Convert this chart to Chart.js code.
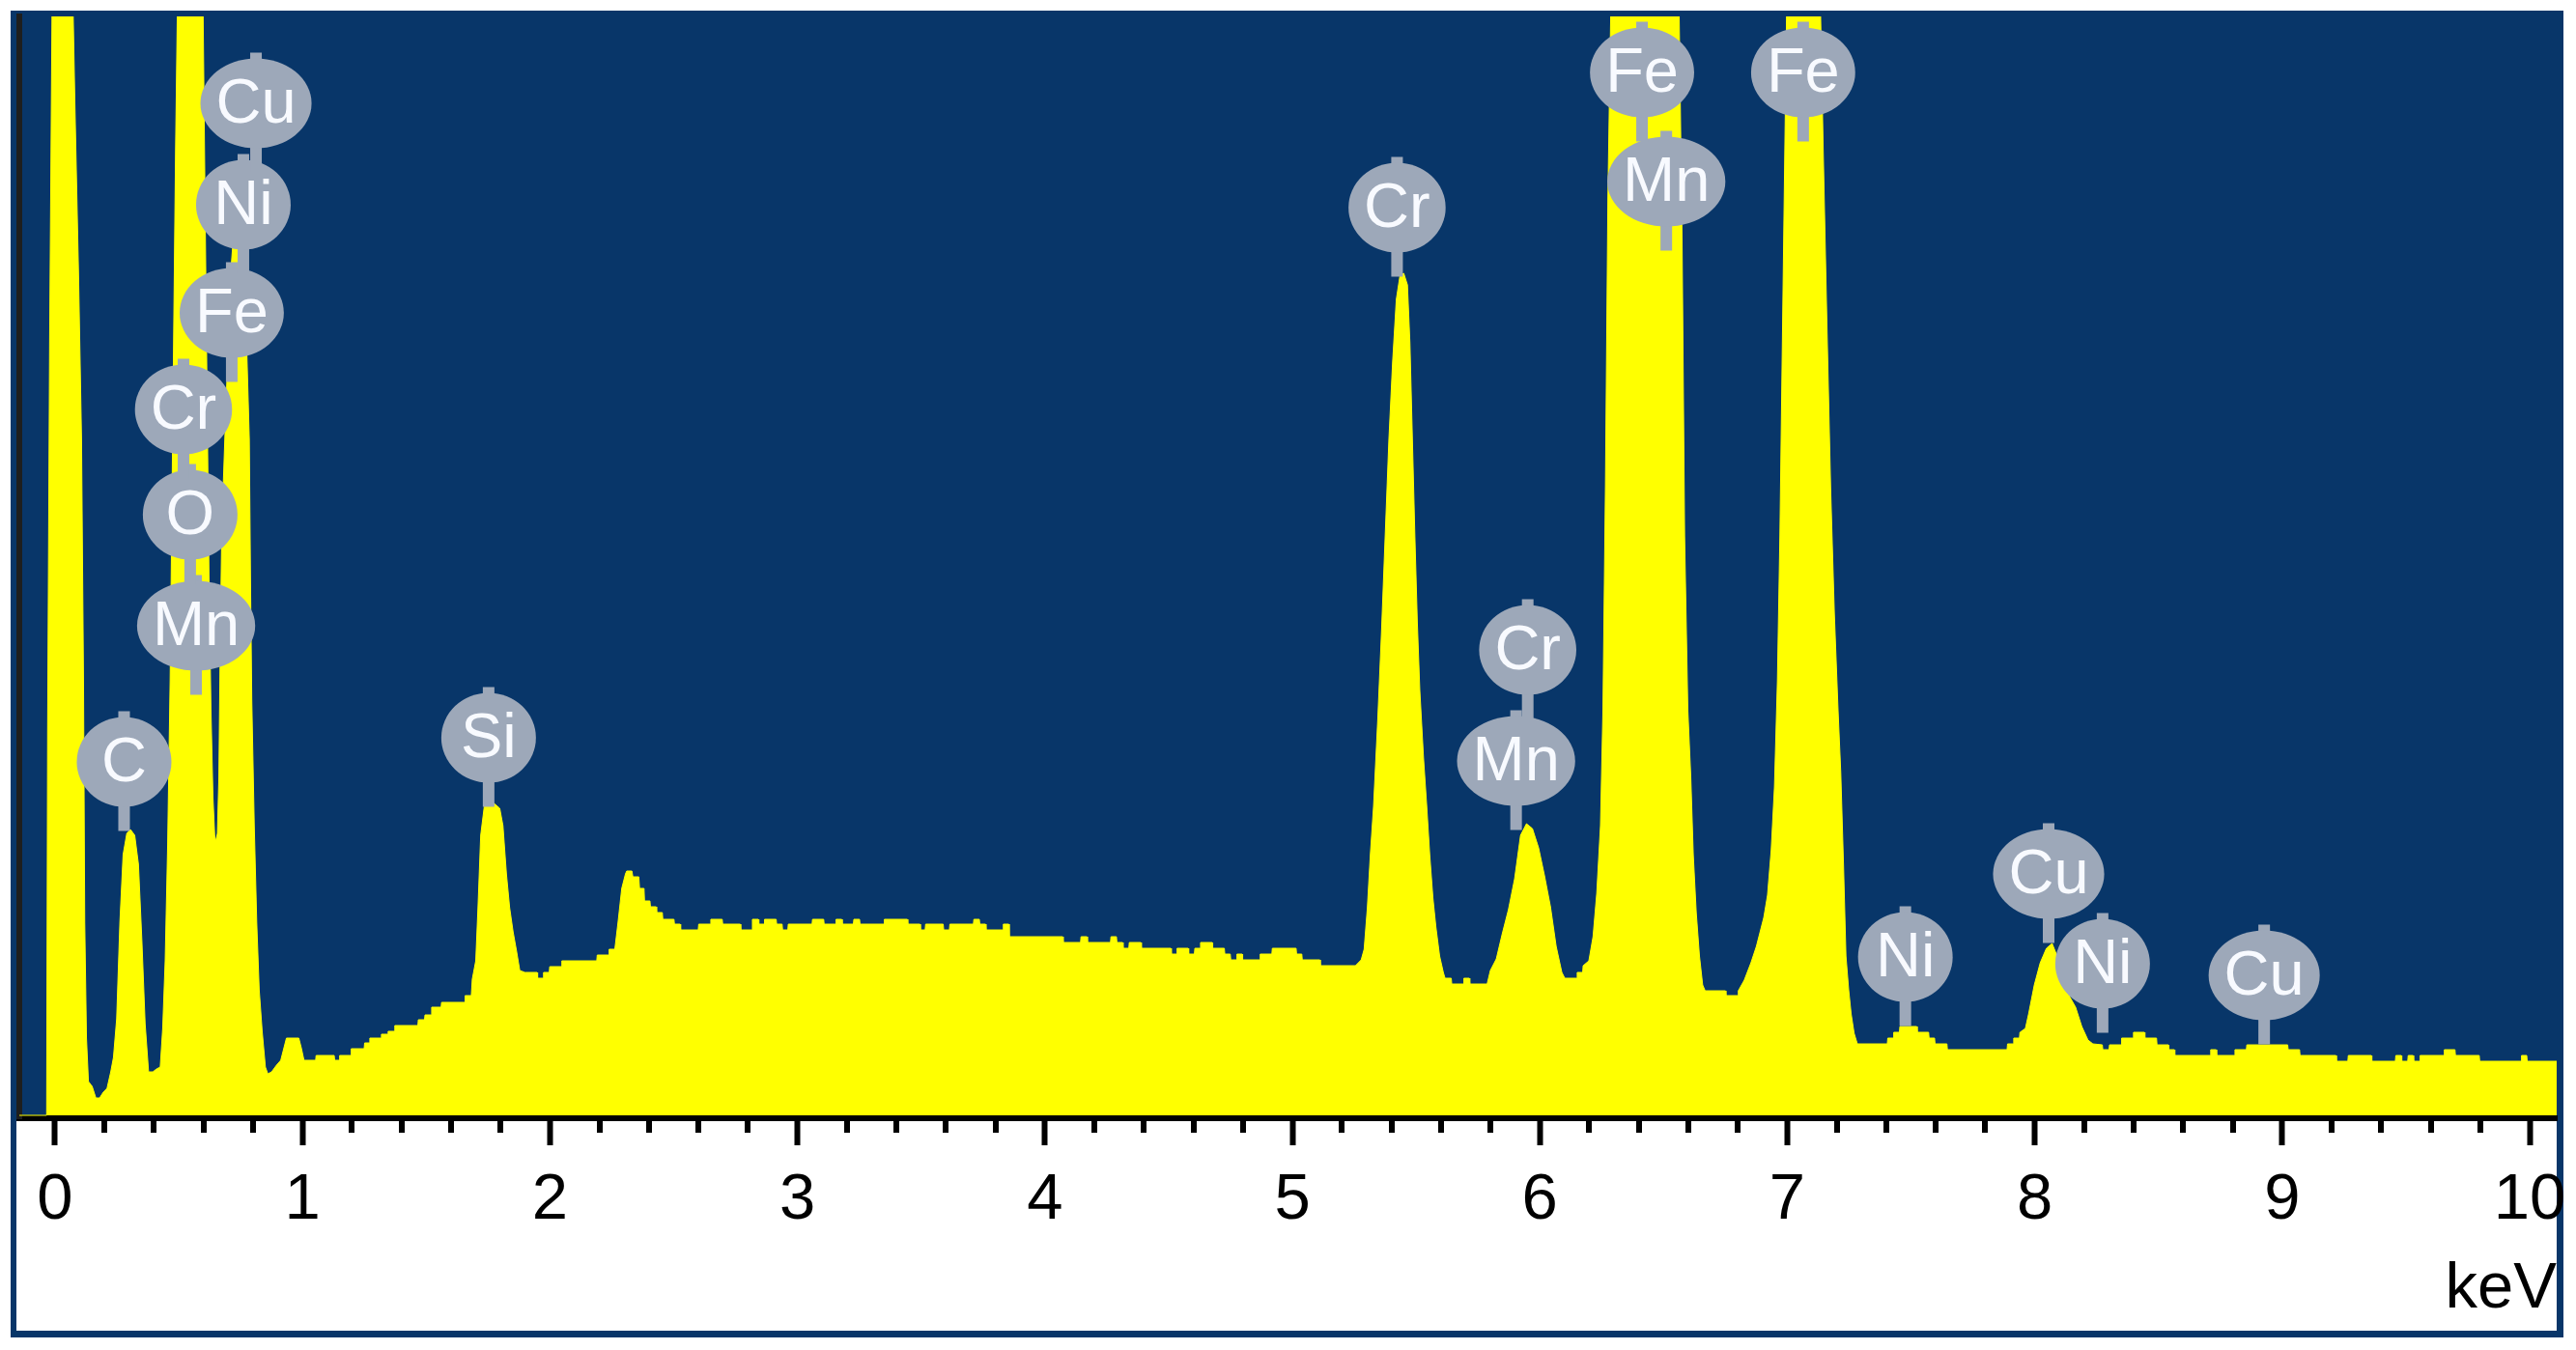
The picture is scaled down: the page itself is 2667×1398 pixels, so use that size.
<!DOCTYPE html>
<html>
<head>
<meta charset="utf-8">
<script src="https://cdn.jsdelivr.net/npm/chart.js@4.4.1/dist/chart.umd.min.js"></script>
<style>
  html, body { margin: 0; padding: 0; background: #ffffff; }
  canvas { display: block; }
</style>
</head>
<body>
<canvas id="eds" width="2667" height="1398"></canvas>
<script>
// ---------- axis ticks ----------
const majorTicks = [0, 1, 2, 3, 4, 5, 6, 7, 8, 9, 10];
const tickLabels = ['0', '1', '2', '3', '4', '5', '6', '7', '8', '9', '10'];
const minorTicks = [0.2, 0.4, 0.6, 0.8, 1.2, 1.4, 1.6, 1.8, 2.2, 2.4, 2.6, 2.8, 3.2, 3.4, 3.6, 3.8,
  4.2, 4.4, 4.6, 4.8, 5.2, 5.4, 5.6, 5.8, 6.2, 6.4, 6.6, 6.8, 7.2, 7.4, 7.6, 7.8,
  8.2, 8.4, 8.6, 8.8, 9.2, 9.4, 9.6, 9.8];

// ---------- spectrum: [energy keV, counts] ----------
const zeroPeakAndCarbon = [[-0.145,0],[-0.034,0],[-0.03,400],[-0.022,800],[-0.012,1150],[0.005,1600],[0.03,2200],[0.05,1900],[0.065,1250],[0.08,1050],[0.095,870],[0.107,700],[0.115,450],[0.12,200],[0.127,80],[0.135,35],[0.15,30],[0.165,18],[0.18,18],[0.195,24],[0.21,28],[0.225,45],[0.236,60],[0.249,100],[0.262,200],[0.275,270],[0.29,292],[0.305,296],[0.322,290],[0.337,260],[0.351,180],[0.364,95],[0.378,45],[0.395,45],[0.41,48],[0.425,50]];

const lLinePeaks = [[0.435,90],[0.445,160],[0.455,280],[0.465,450],[0.475,700],[0.487,1000],[0.497,1200],[0.52,1400],[0.56,1450],[0.585,1300],[0.598,1150],[0.608,900],[0.617,680],[0.622,560],[0.63,420],[0.638,330],[0.645,290],[0.65,284],[0.656,292],[0.662,350],[0.668,500],[0.674,610],[0.682,670],[0.69,730],[0.70,800],[0.712,880],[0.725,925],[0.738,930],[0.75,900],[0.762,850],[0.775,790],[0.785,700],[0.79,550],[0.795,430],[0.805,300],[0.815,200],[0.825,130],[0.837,87],[0.85,50],[0.86,43]];

const lowContinuum = [[0.875,45],[0.895,52],[0.912,57],[0.925,70],[0.935,80],[0.985,80],[0.995,70],[1.006,57],[1.053,57],[1.055,62],[1.128,62],[1.13,57],[1.148,57],[1.15,62],[1.195,62],[1.197,69],[1.249,69],[1.251,75],[1.27,75],[1.272,80],[1.317,80],[1.319,84],[1.344,84],[1.346,87],[1.371,87],[1.373,93],[1.466,93],[1.468,99],[1.493,99],[1.495,104],[1.52,104],[1.522,112],[1.56,112],[1.562,117],[1.655,117],[1.657,124],[1.682,124],[1.686,141]];

const siliconRegion = [[1.70,160],[1.709,215],[1.72,290],[1.736,323],[1.765,325],[1.797,318],[1.81,300],[1.824,250],[1.837,215],[1.851,190],[1.865,170],[1.878,150],[1.899,148],[1.948,148],[1.95,142],[1.972,142],[1.974,148],[1.997,148],[1.999,154],[2.046,154],[2.048,160],[2.189,160],[2.191,166],[2.237,166],[2.239,172],[2.262,172],[2.275,200],[2.29,235],[2.305,250],[2.31,253],[2.331,253],[2.335,247],[2.359,247],[2.362,235],[2.38,235],[2.382,222],[2.404,222],[2.406,216],[2.429,216],[2.431,210],[2.454,210]];

const midContinuum = [[2.456,203],[2.501,203],[2.503,198],[2.526,198],[2.528,192],[2.599,192],[2.601,198],[2.648,198],[2.65,203],[2.696,203],[2.698,198],[2.769,198],[2.771,192],[2.816,192],[2.818,203],[2.842,203],[2.844,198],[2.865,198],[2.867,203],[2.914,203],[2.916,198],[2.938,198],[2.94,192],[2.961,192],[2.963,198],[3.059,198],[3.061,203],[3.106,203],[3.108,198],[3.154,198],[3.156,203],[3.179,203],[3.181,198],[3.226,198],[3.228,203],[3.251,203],[3.253,198],[3.349,198],[3.351,203],[3.444,203],[3.446,198],[3.495,198],[3.497,192],[3.516,192],[3.518,198],[3.589,198],[3.591,192],[3.614,192],[3.616,198],[3.711,198],[3.713,203],[3.735,203],[3.737,198],[3.76,198],[3.762,192],[3.83,192],[3.832,198],[3.854,198],[3.856,185],[4.072,185],[4.074,179],[4.144,179],[4.146,185],[4.17,185],[4.172,179],[4.265,179],[4.267,185],[4.289,185],[4.291,179],[4.314,179],[4.316,173],[4.339,173],[4.341,179],[4.388,179],[4.39,173],[4.509,173],[4.511,167],[4.532,167],[4.534,173],[4.579,173],[4.581,167],[4.604,167],[4.606,173],[4.627,173],[4.629,179],[4.676,179],[4.678,173],[4.725,173],[4.727,167],[4.749,167],[4.751,161],[4.774,161],[4.776,167],[4.797,167],[4.799,161],[4.868,161],[4.87,167],[4.917,167],[4.919,173],[5.015,173],[5.017,167],[5.038,167],[5.04,161],[5.111,161],[5.113,155],[5.255,155]];

const chromiumManganese = [[5.278,161],[5.29,172],[5.303,215],[5.315,270],[5.328,320],[5.345,410],[5.36,500],[5.375,600],[5.39,700],[5.405,780],[5.42,845],[5.435,870],[5.45,872],[5.465,860],[5.475,800],[5.485,700],[5.495,600],[5.505,510],[5.515,440],[5.53,370],[5.543,320],[5.555,270],[5.568,225],[5.58,195],[5.595,165],[5.61,148],[5.617,142],[5.642,142],[5.644,136],[5.691,136],[5.693,142],[5.715,142],[5.717,136],[5.787,136],[5.80,150],[5.824,162],[5.848,188],[5.873,213],[5.898,245],[5.922,290],[5.946,302],[5.97,297],[5.995,277],[6.019,248],[6.043,216],[6.066,175],[6.089,148],[6.101,142],[6.149,142],[6.151,148],[6.173,148],[6.175,155],[6.198,160]];

const ironK = [[6.215,185],[6.23,230],[6.245,300],[6.255,420],[6.265,650],[6.275,950],[6.29,1200],[6.35,1500],[6.42,1600],[6.50,1450],[6.545,1300],[6.56,1200],[6.575,900],[6.585,600],[6.598,420],[6.61,350],[6.62,270],[6.632,210],[6.645,165],[6.658,135],[6.668,129],[6.75,129],[6.752,124],[6.80,124],[6.802,129],[6.826,140],[6.853,158],[6.875,175],[6.89,190],[6.905,205],[6.92,228],[6.935,275],[6.948,340],[6.96,450],[6.97,600],[6.98,800],[6.99,1000],[7.0,1200],[7.05,1450],[7.10,1400],[7.13,1200],[7.145,1000],[7.16,820],[7.175,650],[7.19,520],[7.205,420],[7.216,355],[7.227,260],[7.237,165],[7.248,130],[7.258,105],[7.27,85],[7.283,74]];

const nickelCopper = [[7.404,74],[7.406,80],[7.428,80],[7.43,86],[7.453,86],[7.455,92],[7.523,92],[7.525,86],[7.571,86],[7.573,80],[7.595,80],[7.597,74],[7.645,74],[7.647,68],[7.888,68],[7.89,74],[7.913,74],[7.915,80],[7.938,80],[7.94,86],[7.962,90],[7.975,105],[7.998,135],[8.022,158],[8.047,173],[8.07,178],[8.095,162],[8.13,128],[8.165,112],[8.19,92],[8.215,78],[8.235,74]];

const highTail = [[8.273,73],[8.275,68],[8.30,68],[8.302,73],[8.349,73],[8.351,80],[8.397,80],[8.399,86],[8.443,86],[8.445,80],[8.492,80],[8.494,73],[8.54,73],[8.542,68],[8.564,68],[8.566,62],[8.709,62],[8.711,68],[8.733,68],[8.735,62],[8.807,62],[8.809,68],[8.855,68],[8.857,73],[9.022,73],[9.024,68],[9.07,68],[9.072,62],[9.217,62],[9.219,56],[9.265,56],[9.267,62],[9.36,62],[9.362,56],[9.457,56],[9.459,62],[9.481,62],[9.483,56],[9.507,56],[9.509,62],[9.529,62],[9.531,56],[9.555,56],[9.557,62],[9.653,62],[9.655,68],[9.698,68],[9.70,62],[9.796,62],[9.798,56],[9.965,56],[9.967,62],[9.988,62],[9.99,56],[10.12,56]];

// ---------- element markers ----------
const labelElements = ['C', 'Mn', 'O', 'Cr', 'Fe', 'Ni', 'Cu', 'Si', 'Cr', 'Mn', 'Cr', 'Mn', 'Fe', 'Fe', 'Ni', 'Cu', 'Ni', 'Cu'];
const labelKeV      = [0.279, 0.570, 0.546, 0.519, 0.714, 0.761, 0.812, 1.752, 5.423, 5.904, 5.951, 6.511, 6.413, 7.064, 7.477, 8.056, 8.274, 8.927];
const labelCounts   = [366, 507, 622, 731, 831, 943, 1048, 391, 940, 367, 482, 967, 1080, 1080, 164, 250, 157, 145];

// ---------- styles ----------
const BLUE = '#083669';
const YELLOW = '#ffff00';
const MARKER_GREY = '#9da8b9';
const FONT_FAMILY = '"Liberation Sans", Arial, sans-serif';

const spectrum = [].concat(zeroPeakAndCarbon, lLinePeaks, lowContinuum, siliconRegion,
  midContinuum, chromiumManganese, ironK, nickelCopper, highTail)
  .map(p => ({ x: p[0], y: p[1] }));

const framePlugin = {
  id: 'frame',
  beforeDraw(chart) {
    const { ctx, chartArea } = chart;
    const xs = chart.scales.x;
    ctx.save();
    ctx.fillStyle = '#ffffff';
    ctx.fillRect(0, 0, chart.width, chart.height);
    ctx.fillStyle = BLUE;
    ctx.fillRect(chartArea.left - 9, chartArea.top - 6,
      (chartArea.right + 7) - (chartArea.left - 9), (xs.bottom + 7) - (chartArea.top - 6));
    ctx.fillStyle = '#ffffff';
    ctx.fillRect(chartArea.left - 3, chartArea.bottom, chartArea.right - (chartArea.left - 3), xs.bottom - chartArea.bottom);
    ctx.restore();
  }
};

const minorTickPlugin = {
  id: 'minorTicks',
  afterDraw(chart) {
    const { ctx } = chart;
    const xs = chart.scales.x;
    ctx.save();
    ctx.fillStyle = '#000000';
    minorTicks.forEach(v => {
      const px = Math.round(xs.getPixelForValue(v));
      ctx.fillRect(px - 3, xs.top + 3, 6, 12);
    });
    ctx.restore();
  }
};

const markerPlugin = {
  id: 'markers',
  afterDatasetsDraw(chart) {
    const { ctx } = chart;
    const xs = chart.scales.x, ys = chart.scales.y;
    ctx.save();
    ctx.font = '65px ' + FONT_FAMILY;
    ctx.textAlign = 'center';
    ctx.textBaseline = 'middle';
    const ry = 46.5;
    labelElements.forEach((txt, i) => {
      const cx = xs.getPixelForValue(labelKeV[i]);
      const cy = ys.getPixelForValue(labelCounts[i]);
      const tw = ctx.measureText(txt).width;
      const rx = Math.max(49, tw / 2 + 16);
      ctx.fillStyle = MARKER_GREY;
      ctx.fillRect(cx - 6, cy - ry - 6, 12, 2 * ry + 6 + 25);
      ctx.beginPath();
      ctx.ellipse(cx, cy, rx, ry, 0, 0, Math.PI * 2);
      ctx.fill();
      ctx.fillStyle = '#f8faff';
      ctx.fillText(txt, cx, cy + 2);
    });
    ctx.restore();
  }
};

new Chart(document.getElementById('eds'), {
  type: 'line',
  data: {
    datasets: [{
      data: spectrum,
      parsing: false,
      borderColor: YELLOW,
      borderWidth: 1,
      backgroundColor: YELLOW,
      fill: 'origin',
      pointRadius: 0,
      tension: 0
    }]
  },
  options: {
    responsive: false,
    animation: false,
    devicePixelRatio: 1,
    layout: { padding: { left: 20, top: 17, right: 20, bottom: 20 } },
    plugins: { legend: { display: false }, tooltip: { enabled: false }, title: { display: false } },
    scales: {
      x: {
        type: 'linear',
        position: 'bottom',
        min: -0.1444,
        max: 10.109,
        afterBuildTicks: (scale) => { scale.ticks = majorTicks.map(v => ({ value: v })); },
        afterFit: (scale) => { scale.height = 220; scale.paddingLeft = 0; scale.paddingRight = 0; },
        border: { display: true, color: '#000000', width: 6 },
        grid: { display: true, drawOnChartArea: false, drawTicks: true, tickLength: 28, tickWidth: 6, tickColor: '#000000' },
        ticks: {
          autoSkip: false,
          maxRotation: 0,
          padding: 17,
          color: '#000000',
          font: { family: FONT_FAMILY, size: 67, lineHeight: 1.2 },
          callback: (value, index) => tickLabels[index]
        },
        title: {
          display: true,
          text: 'keV',
          align: 'end',
          color: '#000000',
          font: { family: FONT_FAMILY, size: 67, lineHeight: 1.2 },
          padding: { top: 0, bottom: 2 }
        }
      },
      y: {
        type: 'linear',
        position: 'left',
        min: -3,
        max: 1138,
        afterFit: (scale) => { scale.width = 0; },
        border: { display: true, color: '#1e1e1e', width: 6 },
        grid: { display: false, drawTicks: false },
        ticks: { display: false }
      }
    }
  },
  plugins: [framePlugin, markerPlugin, minorTickPlugin]
});
</script>
</body>
</html>
